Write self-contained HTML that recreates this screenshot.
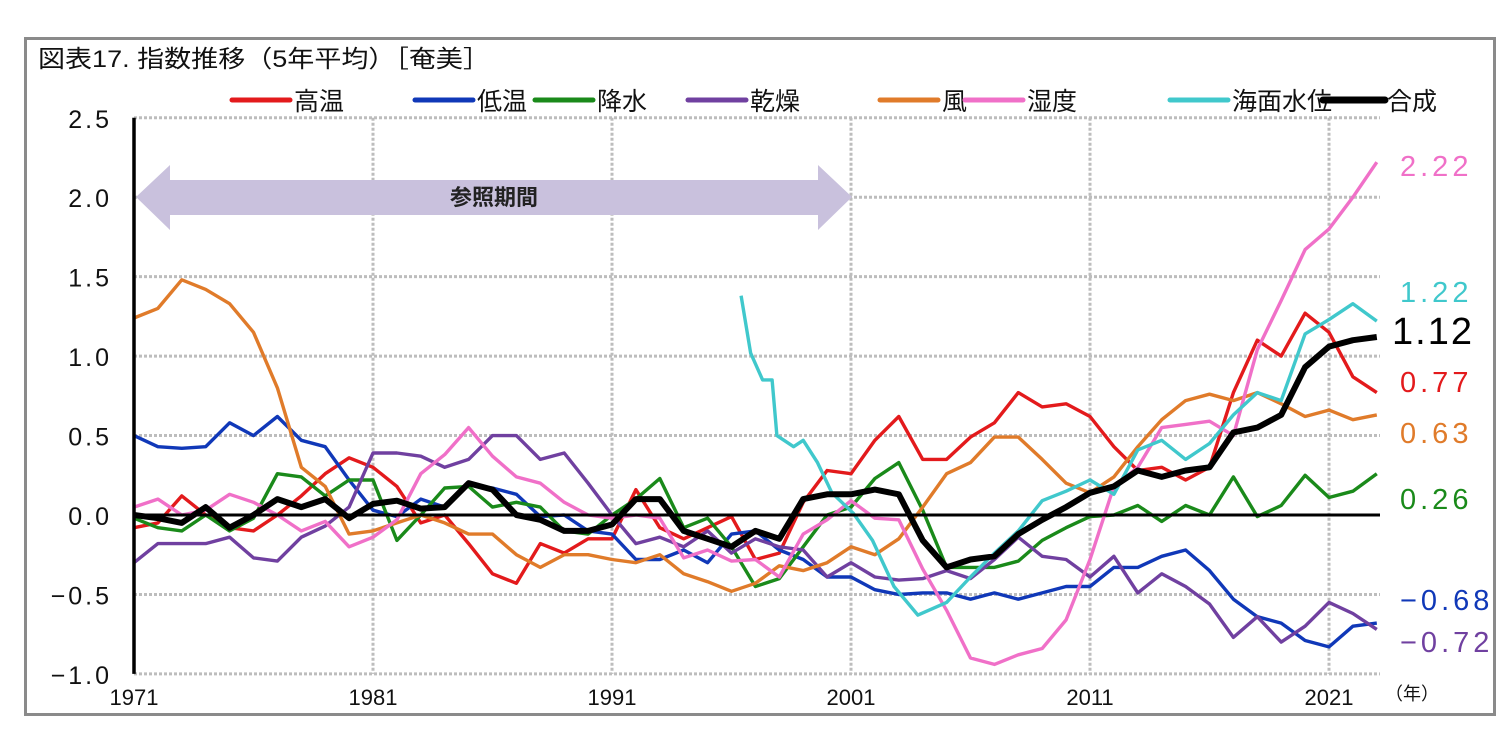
<!DOCTYPE html>
<html><head><meta charset="utf-8">
<style>
html,body{margin:0;padding:0;background:#fff;}
svg text{font-family:"Liberation Sans","Noto Sans CJK JP",sans-serif;}
</style></head>
<body>
<svg id="chart" width="1509" height="738" viewBox="0 0 1509 738" xmlns="http://www.w3.org/2000/svg">
<rect x="25.5" y="38.5" width="1469" height="676" fill="#fff" stroke="#8a8a8a" stroke-width="3"/>
<text x="38" y="67" font-size="24" fill="#111" textLength="452" lengthAdjust="spacingAndGlyphs">図表17. 指数推移（5年平均）［奄美］</text>
<g id="grid"></g>
<g id="band">
<polygon points="136,197 170,165 170,180 818,180 818,165 852,197 818,230 818,215 170,215 170,230" fill="#c9c1dd"/>
<text x="494" y="205" font-size="22" font-weight="bold" text-anchor="middle" fill="#222">参照期間</text>
</g>
<g id="series"></g>
<g id="axes"></g>
<g id="legend"></g>
<g id="endlabels"></g>
</svg>
<script>
const startYear = 1971;
const names = ["高温","低温","降水","乾燥","風","湿度","海面水位","合成"];
const highTemp = [-0.08,-0.05,0.12,0.0,-0.08,-0.1,0.0,0.12,0.26,0.36,0.3,0.18,-0.05,0.0,-0.18,-0.37,-0.43,-0.18,-0.24,-0.15,-0.15,0.16,-0.08,-0.15,-0.08,-0.01,-0.28,-0.24,0.08,0.28,0.26,0.47,0.62,0.35,0.35,0.49,0.58,0.77,0.68,0.7,0.62,0.43,0.28,0.3,0.22,0.3,0.77,1.1,1.0,1.27,1.15,0.87,0.77];
const lowTemp = [0.5,0.43,0.42,0.43,0.58,0.5,0.62,0.47,0.43,0.22,0.03,-0.01,0.1,0.05,0.19,0.17,0.13,-0.01,0.0,-0.1,-0.12,-0.28,-0.28,-0.22,-0.3,-0.12,-0.1,-0.22,-0.28,-0.39,-0.39,-0.47,-0.5,-0.49,-0.49,-0.53,-0.49,-0.53,-0.49,-0.45,-0.45,-0.33,-0.33,-0.26,-0.22,-0.35,-0.53,-0.64,-0.68,-0.79,-0.83,-0.7,-0.68];
const precip = [-0.02,-0.08,-0.1,0.0,-0.1,-0.02,0.26,0.24,0.12,0.22,0.22,-0.16,0.0,0.17,0.18,0.05,0.08,0.05,-0.1,-0.12,0.0,0.1,0.23,-0.08,-0.02,-0.2,-0.45,-0.4,-0.2,0.0,0.05,0.23,0.33,0.03,-0.33,-0.33,-0.33,-0.29,-0.16,-0.08,-0.01,0.0,0.06,-0.04,0.06,0.0,0.24,-0.01,0.06,0.25,0.11,0.15,0.26];
const dry = [-0.3,-0.18,-0.18,-0.18,-0.14,-0.27,-0.29,-0.14,-0.07,0.05,0.39,0.39,0.37,0.3,0.35,0.5,0.5,0.35,0.39,0.2,0.0,-0.18,-0.14,-0.2,-0.1,-0.24,-0.15,-0.2,-0.22,-0.39,-0.3,-0.39,-0.41,-0.4,-0.35,-0.4,-0.28,-0.14,-0.26,-0.28,-0.39,-0.26,-0.49,-0.37,-0.45,-0.56,-0.77,-0.64,-0.8,-0.7,-0.55,-0.62,-0.72];
const wind = [1.24,1.3,1.48,1.42,1.33,1.15,0.8,0.3,0.18,-0.12,-0.1,-0.05,0.0,-0.05,-0.12,-0.12,-0.25,-0.33,-0.25,-0.25,-0.28,-0.3,-0.25,-0.37,-0.42,-0.48,-0.43,-0.32,-0.35,-0.3,-0.2,-0.25,-0.15,0.05,0.26,0.33,0.49,0.49,0.35,0.2,0.14,0.24,0.43,0.6,0.72,0.76,0.72,0.77,0.7,0.62,0.66,0.6,0.63];
const humid = [0.05,0.1,0.0,0.03,0.13,0.08,0.0,-0.1,-0.04,-0.2,-0.14,-0.03,0.26,0.38,0.55,0.37,0.24,0.2,0.08,0.0,-0.02,0.0,-0.02,-0.27,-0.22,-0.29,-0.28,-0.39,-0.12,-0.03,0.09,-0.02,-0.03,-0.34,-0.6,-0.9,-0.94,-0.88,-0.84,-0.66,-0.28,0.18,0.3,0.55,0.57,0.59,0.5,1.04,1.35,1.67,1.8,2.0,2.22];
const seaStart = 1996.4;
const seaLevel = [1.38,1.02,0.85,0.85,0.5,0.43,0.47,0.33,0.14,0.01,-0.16,-0.45,-0.63,-0.55,-0.39,-0.24,-0.1,0.09,0.15,0.22,0.13,0.41,0.47,0.35,0.45,0.63,0.77,0.72,1.14,1.23,1.33,1.22];
const seaStep = [0,0.4,0.9,1.3,1.5,2.2,2.6,3.2,3.8,4.7,5.5,6.4,7.4,8.6,9.6,10.6,11.6,12.6,13.6,14.6,15.6,16.6,17.6,18.6,19.6,20.6,21.6,22.6,23.6,24.6,25.6,26.6];
const composite = [0.0,-0.02,-0.05,0.05,-0.08,0.0,0.1,0.05,0.1,-0.02,0.07,0.09,0.04,0.05,0.2,0.16,0.0,-0.03,-0.1,-0.1,-0.06,0.1,0.1,-0.1,-0.15,-0.2,-0.1,-0.15,0.1,0.13,0.13,0.16,0.13,-0.16,-0.33,-0.28,-0.26,-0.12,-0.03,0.05,0.14,0.18,0.28,0.24,0.28,0.3,0.52,0.55,0.63,0.93,1.06,1.1,1.12];
const yTicks = ["2.5","2.0","1.5","1.0","0.5","0.0","-0.5","-1.0"];
const yTickVals = [2.5,2.0,1.5,1.0,0.5,0.0,-0.5,-1.0];
const xTickYears = [1971,1981,1991,2001,2011,2021];
const endLabels = ["2.22","1.22","1.12","0.77","0.63","0.26","−0.68","−0.72"];

const NS="http://www.w3.org/2000/svg";
const X0=134, PXY=23.9, Y0=515, PXV=158.9;
function xs(yr){return X0+(yr-startYear)*PXY;}
function ys(v){return Y0-v*PXV;}
function mk(tag,attrs,parent){const e=document.createElementNS(NS,tag);for(const k in attrs)e.setAttribute(k,attrs[k]);parent.appendChild(e);return e;}
const grid=document.getElementById('grid'), axes=document.getElementById('axes'), ser=document.getElementById('series'), leg=document.getElementById('legend'), endg=document.getElementById('endlabels');
const xEnd=1380;
yTickVals.forEach((v,i)=>{
  if(v!==0){const l=mk('line',{x1:X0,x2:xEnd,y1:ys(v),y2:ys(v),stroke:'#bdbdbd','stroke-width':3,'stroke-dasharray':'3,2'},grid);
  
  }
  const t=mk('text',{x:112,y:ys(v)+10,'font-size':25,'text-anchor':'end',fill:'#111','letter-spacing':'3'},axes);
  t.textContent=yTicks[i].replace('-','−');
  
  
});
xTickYears.forEach(yr=>{
  if(yr!==startYear){const l=mk('line',{x1:xs(yr),x2:xs(yr),y1:ys(2.5),y2:ys(-1),stroke:'#bdbdbd','stroke-width':3,'stroke-dasharray':'3,2'},grid);
  
  }
  const t=mk('text',{x:xs(yr),y:705,'font-size':22,'text-anchor':'middle',fill:'#111'},axes);
  t.textContent=yr;
  
  
});
const unit=mk('text',{x:1385,y:700,'font-size':18,fill:'#111'},axes);unit.textContent='（年）';


const zl=mk('line',{x1:X0,x2:xEnd,y1:ys(0),y2:ys(0),stroke:'#000','stroke-width':3},axes);


const ya=mk('line',{x1:X0,x2:X0,y1:ys(2.5),y2:ys(-1),stroke:'#000','stroke-width':3.5},axes);



const colors=['#e31a1c','#1038b8','#1a8a1a','#7040a0','#e07b2a','#f070c8','#40c8cc','#000'];
const data=[highTemp,lowTemp,precip,dry,wind,humid,null,composite];
const keys=['high-temp','low-temp','precipitation','dryness','wind','humidity','sea-level','composite'];
data.forEach((arr,i)=>{
  let pts;
  if(arr===null){pts=seaLevel.map((v,j)=>xs(seaStart+seaStep[j]).toFixed(1)+','+ys(v).toFixed(1));}
  else pts=arr.map((v,j)=>xs(startYear+j).toFixed(1)+','+ys(v).toFixed(1));
  const p=mk('polyline',{points:pts.join(' '),fill:'none',stroke:colors[i],'stroke-width':i===7?6:3.4,'stroke-linejoin':'round'},ser);
  
  
});
const legX=[232,415,535,688,880,965,1170,1323];
names.forEach((n,i)=>{
  const l=mk('line',{x1:legX[i],x2:legX[i]+(i===7?62:58),y1:100,y2:100,stroke:colors[i],'stroke-width':i===7?7:5,'stroke-linecap':'round'},leg);
  
  
  const t=mk('text',{x:legX[i]+(i===7?64:62),y:110,'font-size':25,fill:'#111'},leg);
  t.textContent=n;
  
  
});
const endY=[176,302,344,392,443,509,610,652];
const endC=['#f070c8','#40c8cc','#000','#e31a1c','#e07b2a','#1a8a1a','#1038b8','#7040a0'];
endLabels.forEach((s,i)=>{
  const t=mk('text',{x:i===2?1392:1400,y:endY[i],'font-size':i===2?38:29,fill:endC[i],'letter-spacing':i===2?'2':'4'},endg);
  t.textContent=s;
  
  
});
</script>
</body></html>
